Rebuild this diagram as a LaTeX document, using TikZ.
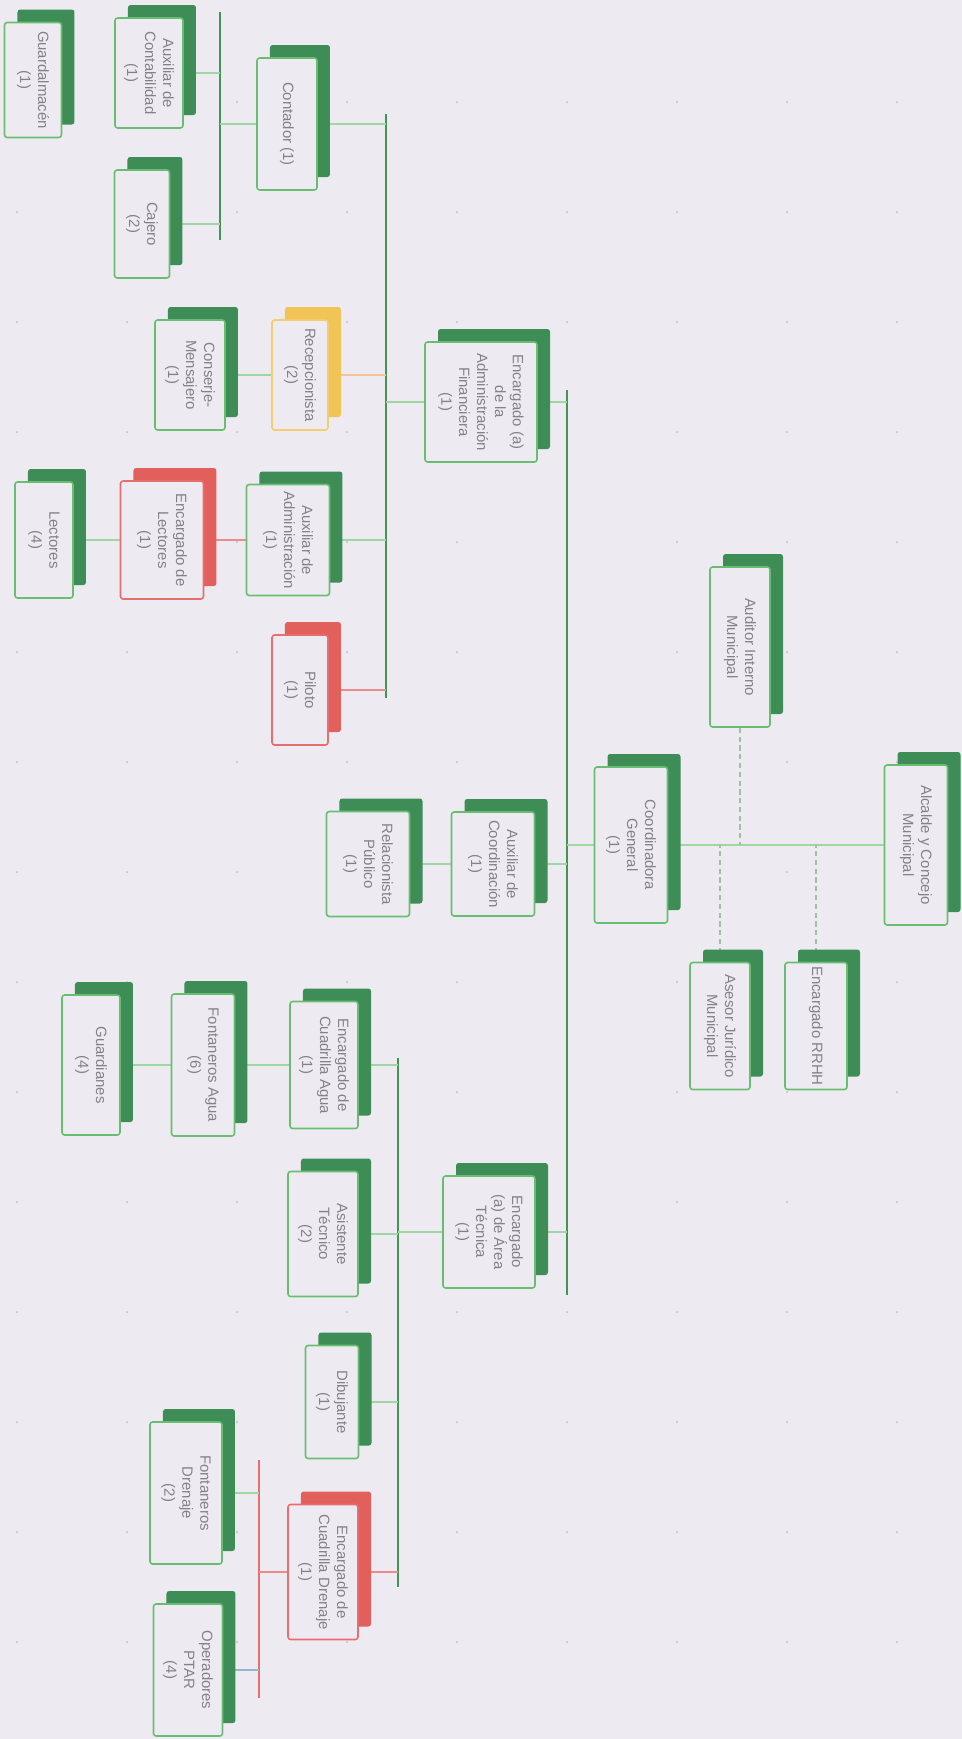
\documentclass[tikz,border=0pt]{standalone}
\usepackage{fontspec}
\setmainfont{Liberation Sans}
\usetikzlibrary{shadows,backgrounds}

% colours of the chart
\definecolor{paper}{RGB}{237,235,241}
\definecolor{dotgray}{RGB}{200,198,206}
\definecolor{dkgreen}{RGB}{62,140,86}
\definecolor{ltgreen}{RGB}{104,190,112}
\definecolor{lnkgreen}{RGB}{160,214,162}
\definecolor{busgreen}{RGB}{66,150,84}
\definecolor{dkred}{RGB}{226,96,92}
\definecolor{ltred}{RGB}{230,110,110}
\definecolor{dkyellow}{RGB}{242,196,86}
\definecolor{ltyellow}{RGB}{242,206,112}
\definecolor{orgline}{RGB}{244,196,150}
\definecolor{blueline}{RGB}{150,180,205}
\definecolor{txtgray}{RGB}{130,130,136}

\tikzset{
  postbase/.style={rotate=-90, fill=paper, rounded corners=1.5pt, line width=0.9pt,
    align=center, text=txtgray, font=\fontsize{8.5}{10.2}\selectfont, inner sep=1pt},
  gpost/.style={postbase, draw=ltgreen,
    general shadow={fill=dkgreen, shadow xshift=0.26cm, shadow yshift=0.26cm}},
  rpost/.style={postbase, draw=ltred,
    general shadow={fill=dkred, shadow xshift=0.26cm, shadow yshift=0.26cm}},
  ypost/.style={postbase, draw=ltyellow,
    general shadow={fill=dkyellow, shadow xshift=0.26cm, shadow yshift=0.26cm}},
  sz/.style 2 args={minimum width=#2*0.02cm, minimum height=#1*0.02cm},
  bus/.style={busgreen, line width=1.4pt},
  redbus/.style={ltred, line width=1.2pt},
  link/.style={lnkgreen, line width=0.8pt},
  redlink/.style={ltred!80, line width=0.8pt},
  orglink/.style={orgline, line width=0.8pt},
  bluelink/.style={blueline, line width=0.8pt},
  staff/.style={lnkgreen!80!gray, line width=0.8pt, dash pattern=on 3pt off 2pt}
}

\begin{document}
\begin{tikzpicture}[x=0.02cm, y=-0.02cm]
	
	\useasboundingbox (0,0) rectangle (962,1739);
	
	% Bus lines
	\coordinate (cbTop) at (220,12);
	\coordinate (cbBot) at (220,240);
	\coordinate (abTop) at (386,114);
	\coordinate (abBot) at (386,698);
	\coordinate (mbTop) at (567,390);
	\coordinate (mbBot) at (567,1295);
	\coordinate (tbTop) at (398,1058);
	\coordinate (tbBot) at (398,1587);
	\coordinate (dbTop) at (259,1460);
	\coordinate (dbBot) at (259,1698);
	
	% Top of the chart
	\node[gpost, sz={63}{160}] (alcalde) at (916,845) {Alcalde y Concejo\\Municipal};
	\node[gpost, sz={73}{156}] (coord) at (631,845) {Coordinadora\\General\\(1)};
	\node[gpost, sz={60}{160}] (auditor) at (740,647) {Auditor Interno\\Municipal};
	\node[gpost, sz={60}{127}] (asesor) at (720,1026) {Asesor Jurídico\\Municipal};
	\node[gpost, sz={62}{127}] (rrhh) at (816,1026) {Encargado RRHH};
	
	% Administration
	\node[gpost, sz={112}{120}] (admfin) at (481,402) {Encargado (a)\\de la\\Administración\\Financiera\\(1)};
	\node[gpost, sz={60}{132}] (contador) at (287,124) {Contador (1)};
	\node[gpost, sz={68}{110}] (auxcont) at (149,73) {Auxiliar de\\Contabilidad\\(1)};
	\node[gpost, sz={55}{108}] (cajero) at (142,224) {Cajero\\(2)};
	\node[gpost, sz={57}{115}] (guardalm) at (33,80) {Guardalmacén\\(1)};
	\node[ypost, sz={56}{110}] (recep) at (300,375) {Recepcionista\\(2)};
	\node[gpost, sz={70}{110}] (conserje) at (190,375) {Conserje-\\Mensajero\\(1)};
	\node[gpost, sz={83}{111}] (auxadm) at (288,540) {Auxiliar de\\Administración\\(1)};
	\node[rpost, sz={83}{118}] (enclect) at (162,540) {Encargado de\\Lectores\\(1)};
	\node[gpost, sz={58}{116}] (lectores) at (44,540) {Lectores\\(4)};
	\node[rpost, sz={56}{110}] (piloto) at (300,690) {Piloto\\(1)};
	
	% Coordination
	\node[gpost, sz={83}{104}] (auxcoord) at (493,864) {Auxiliar de\\Coordinación\\(1)};
	\node[gpost, sz={83}{105}] (relpub) at (368,864) {Relacionista\\Público\\(1)};
	
	% Technical area
	\node[gpost, sz={92}{112}] (areatec) at (489,1232) {Encargado\\(a) de Área\\Técnica\\(1)};
	\node[gpost, sz={70}{125}] (asistec) at (323,1234) {Asistente\\Técnico\\(2)};
	\node[gpost, sz={68}{127}] (agua) at (324,1065) {Encargado de\\Cuadrilla Agua\\(1)};
	\node[gpost, sz={63}{142}] (fontagua) at (203,1065) {Fontaneros Agua\\(6)};
	\node[gpost, sz={58}{140}] (guardianes) at (91,1065) {Guardianes\\(4)};
	\node[gpost, sz={53}{113}] (dibujante) at (332,1402) {Dibujante\\(1)};
	\node[rpost, sz={70}{135}] (drenaje) at (323,1572) {Encargado de\\Cuadrilla Drenaje\\(1)};
	\node[gpost, sz={72}{142}] (fontdren) at (186,1493) {Fontaneros\\Drenaje\\(2)};
	\node[gpost, sz={69}{132}] (ptar) at (188,1670) {Operadores\\PTAR\\(4)};
	
	\begin{scope}[on background layer]
		\fill[paper] (0,0) rectangle (962,1739);
		% dotted paper
		\foreach \i in {0,...,8} {
			\foreach \j in {0,...,14} {
				\fill[dotgray] (17+110*\i, 102+110*\j) circle (0.025cm);
			}
		}
		
		\draw[bus] (cbTop) -- (cbBot);
		\draw[bus] (abTop) -- (abBot);
		\draw[bus] (mbTop) -- (mbBot);
		\draw[bus] (tbTop) -- (tbBot);
		\draw[redbus] (dbTop) -- (dbBot);
		
		% Top links
		\draw[link] (coord) -- (alcalde);
		\draw[link] (coord) -- (coord -| mbTop);
		\draw[staff] (auditor) -- (auditor |- coord);
		\draw[staff] (asesor) -- (asesor |- coord);
		\draw[staff] (rrhh) -- (rrhh |- coord);
		
		% Administration links
		\draw[link] (admfin) -- (admfin -| mbTop);
		\draw[link] (admfin) -- (admfin -| abTop);
		\draw[link] (contador) -- (contador -| abTop);
		\draw[link] (contador) -- (contador -| cbTop);
		\draw[link] (auxcont) -- (auxcont -| cbTop);
		\draw[link] (cajero) -- (cajero -| cbTop);
		\draw[orglink] (recep) -- (recep -| abTop);
		\draw[link] (conserje) -- (recep);
		\draw[link] (auxadm) -- (auxadm -| abTop);
		\draw[redlink] (enclect) -- (auxadm);
		\draw[link] (lectores) -- (enclect);
		\draw[redlink] (piloto) -- (piloto -| abTop);
		
		% Coordination links
		\draw[link] (auxcoord) -- (auxcoord -| mbTop);
		\draw[link] (relpub) -- (auxcoord);
		
		% Technical links
		\draw[link] (areatec) -- (areatec -| mbTop);
		\draw[link] (areatec) -- (areatec -| tbTop);
		\draw[link] (asistec) -- (asistec -| tbTop);
		\draw[link] (agua) -- (agua -| tbTop);
		\draw[link] (fontagua) -- (agua);
		\draw[link] (guardianes) -- (fontagua);
		\draw[link] (dibujante) -- (dibujante -| tbTop);
		\draw[redlink] (drenaje) -- (drenaje -| tbTop);
		\draw[redlink] (drenaje) -- (drenaje -| dbTop);
		\draw[link] (fontdren) -- (fontdren -| dbTop);
		\draw[bluelink] (ptar) -- (ptar -| dbTop);
	\end{scope}
	
\end{tikzpicture}
\end{document}
